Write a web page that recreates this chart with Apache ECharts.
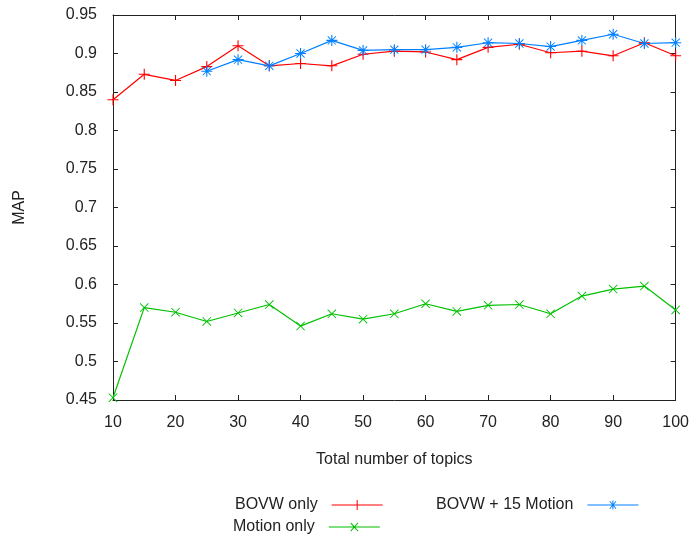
<!DOCTYPE html>
<html>
<head>
<meta charset="utf-8">
<script src="https://cdn.jsdelivr.net/npm/echarts@6/dist/echarts.min.js"></script>
<style>html,body{margin:0;padding:0;background:#fff}#c{width:692px;height:535px}</style>
</head>
<body>
<div id="c"></div>
<script>
const topics = [10,15,20,25,30,35,40,45,50,55,60,65,70,75,80,85,90,95,100];
const bovwOnly = [0.840,0.873,0.865,0.883,0.910,0.884,0.887,0.884,0.899,0.903,0.902,0.892,0.908,0.912,0.901,0.903,0.897,0.914,0.897];
const motionOnly = [0.453,0.570,0.564,0.552,0.563,0.574,0.546,0.562,0.555,0.562,0.575,0.565,0.573,0.574,0.562,0.585,0.594,0.598,0.567];
const bovwMotion = [null,null,null,0.877,0.892,0.884,0.900,0.917,0.904,0.905,0.905,0.908,0.914,0.913,0.909,0.917,0.925,0.913,0.914];
const xTicks = {min:10,max:100,interval:10};
const yTicks = {min:0.45,max:0.95,interval:0.05};
const names = ['BOVW only','Motion only','BOVW + 15 Motion'];
const colors = ['#ff0000','#00c000','#0080ff'];

const FONT = 'Liberation Sans, Arial, sans-serif';
const symPlus = 'path://M4.5,0H5.5V10H4.5Z M0,4.5H10V5.5H0Z';
const symX = 'path://M0,0.7L0.7,0L10,9.3L9.3,10Z M9.3,0L10,0.7L0.7,10L0,9.3Z';
const symStar = 'path://M4.5,0H5.5V10H4.5Z M0,4.5H10V5.5H0Z M1,1.6L1.6,1L9,8.4L8.4,9Z M8.4,1L9,1.6L1.6,9L1,8.4Z';
const iconPlus = 'path://M0,4.5H51V5.5H0Z M25,0H26V10H25Z';
const iconX = 'path://M0,4.5H51V5.5H0Z M21.5,1.2L22.2,0.5L29.5,8.8L28.8,9.5Z M28.8,0.5L29.5,1.2L22.2,9.5L21.5,8.8Z';
const iconStar = 'path://M0,4.5H51V5.5H0Z M25,0.5H26V9.5H25Z M22,1.5L22.7,1L29,8.5L28.3,9Z M28.3,1L29,1.5L22.7,9L22,8.5Z';

function pairs(vals){ return topics.map((t,i)=>vals[i]==null?null:[t,vals[i]]).filter(p=>p); }

const axisLine = {show:true, lineStyle:{color:'#222', width:1}};
const axisTick = {show:true, inside:true, length:5, lineStyle:{color:'#222', width:1}};

function legend(name, icon, left, top){
  return {
    data:[{name:name, icon:icon}],
    left:left, top:top, align:'right', orient:'horizontal',
    itemWidth:51, itemHeight:10,
    selectedMode:false,
    textStyle:{fontFamily:FONT, fontSize:16, color:'#222', padding:[0,9,0,0]}
  };
}

const chart = echarts.init(document.getElementById('c'));
chart.setOption({
  animation:false,
  backgroundColor:'#fff',
  grid:{left:113, right:16, top:15, bottom:135},
  legend:[
    legend(names[0], iconPlus, 230, 492),
    legend(names[1], iconX, 228, 514),
    legend(names[2], iconStar, 431, 492)
  ],
  xAxis:[
    {type:'value', position:'bottom', min:xTicks.min, max:xTicks.max, interval:xTicks.interval,
     name:'Total number of topics', nameLocation:'middle', nameGap:52,
     nameTextStyle:{fontFamily:FONT, fontSize:16, color:'#222'},
     axisLine:axisLine, axisTick:axisTick, splitLine:{show:false},
     axisLabel:{fontFamily:FONT, fontSize:16, color:'#222', margin:15}},
    {type:'value', position:'top', min:xTicks.min, max:xTicks.max, interval:xTicks.interval,
     axisLine:axisLine, axisTick:axisTick, splitLine:{show:false}, axisLabel:{show:false}}
  ],
  yAxis:[
    {type:'value', position:'left', min:yTicks.min, max:yTicks.max, interval:yTicks.interval,
     name:'MAP', nameLocation:'middle', nameGap:85, nameRotate:90,
     nameTextStyle:{fontFamily:FONT, fontSize:16, color:'#222'},
     axisLine:axisLine, axisTick:axisTick, splitLine:{show:false},
     axisLabel:{fontFamily:FONT, fontSize:16, color:'#222', margin:16,
       formatter:v=>String(parseFloat(v.toFixed(2)))}},
    {type:'value', position:'right', min:yTicks.min, max:yTicks.max, interval:yTicks.interval,
     axisLine:axisLine, axisTick:axisTick, splitLine:{show:false}, axisLabel:{show:false}}
  ],
  series:[
    {name:names[0], type:'line', data:pairs(bovwOnly), symbol:symPlus, symbolSize:11,
     lineStyle:{color:colors[0], width:1.2}, itemStyle:{color:colors[0], borderWidth:0}, emphasis:{disabled:true}},
    {name:names[1], type:'line', data:pairs(motionOnly), symbol:symX, symbolSize:9,
     lineStyle:{color:colors[1], width:1.2}, itemStyle:{color:colors[1], borderWidth:0}, emphasis:{disabled:true}},
    {name:names[2], type:'line', data:pairs(bovwMotion), symbol:symStar, symbolSize:11,
     lineStyle:{color:colors[2], width:1.2}, itemStyle:{color:colors[2], borderWidth:0}, emphasis:{disabled:true}}
  ]
});
</script>
</body>
</html>
